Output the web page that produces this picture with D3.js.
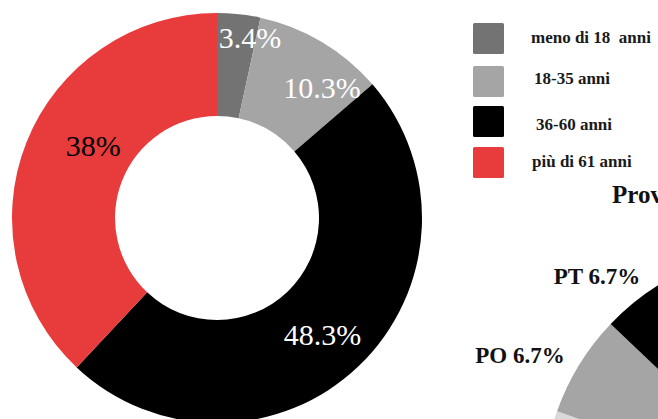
<!DOCTYPE html>
<html>
<head>
<meta charset="utf-8">
<script src="https://cdn.jsdelivr.net/npm/d3@7"></script>
<style>
  body { margin: 0; background: #fff; }
  svg { display: block; }
  text { font-family: "Liberation Serif", "Times New Roman", "DejaVu Serif", serif; }
</style>
</head>
<body>
<svg id="chart"></svg>
<script>
// age groups (donut)
var ageLabels = ["meno di 18  anni", "18-35 anni", "36-60 anni", "più di 61 anni"];
var ageValues = [3.4, 10.3, 48.3, 38];
var ageText = ["3.4%", "10.3%", "48.3%", "38%"];
var ageColors = ["#737373", "#a5a5a5", "#000000", "#e83b3c"];

// province of origin (pie, mostly off screen)
var provLabels = ["FI", "AR", "LU", "SI", "PO", "PT", "PI"];
var provValues = [46.7, 13.3, 10, 10, 6.7, 6.7, 6.6];
var provColors = ["#e83b3c", "#737373", "#595959", "#d9d9d9", "#a5a5a5", "#000000", "#7f7f7f"];
var provTitle = "Provenienza";

(function() {
    const width = 658, height = 419

    var svg = d3.select("#chart")
        .attr("width", width)
        .attr("height", height)

    // ---- donut ----
    var cx = 217, cy = 218
    var outerR = 205, innerR = 102

    var pie = d3.pie().sort(null).value((d) => d)
    var arcs = pie(ageValues)

    var arc = d3.arc().innerRadius(innerR).outerRadius(outerR)
    var labelArc = d3.arc().innerRadius(160).outerRadius(160)

    var g = svg.append("g").attr("transform", "translate(" + cx + "," + cy + ")")

    g.selectAll("path")
        .data(arcs)
        .enter()
        .append("path")
        .attr("d", arc)
        .style("fill", (d, i) => ageColors[i])

    // small nudges so labels sit like the original
    var nudge = [[16, -21], [23, 7], [-5, 1], [25, -14]]
    var textColor = ["#fff", "#fff", "#fff", "#000"]

    g.selectAll("text.lab")
        .data(arcs)
        .enter()
        .append("text")
        .attr("class", "lab")
        .attr("x", (d, i) => labelArc.centroid(d)[0] + nudge[i][0])
        .attr("y", (d, i) => labelArc.centroid(d)[1] + nudge[i][1])
        .attr("text-anchor", "middle")
        .attr("dominant-baseline", "central")
        .style("font-size", "30px")
        .style("fill", (d, i) => textColor[i])
        .text((d, i) => ageText[i])

    // legend
    var legendY = [23, 66, 106, 147]
    var textY = [43, 84, 130, 167]
    var textX = [531, 534, 536, 532]
    var legend = svg.append("g")
    legend.selectAll("rect")
        .data(ageLabels)
        .enter()
        .append("rect")
        .attr("x", 473)
        .attr("y", (d, i) => legendY[i])
        .attr("width", 31)
        .attr("height", 31)
        .attr("rx", 1.5)
        .style("fill", (d, i) => ageColors[i])
    legend.selectAll("text")
        .data(ageLabels)
        .enter()
        .append("text")
        .attr("x", (d, i) => textX[i])
        .attr("y", (d, i) => textY[i])
        .style("font-size", "17px")
        .style("font-weight", "bold")
        .style("fill", "#1a1a1a")
        .style("white-space", "pre")
        .text((d) => d)

    // ---- province pie (cut by the page edge) ----
    var pcx = 788, pcy = 493, pR = 245
    var rot = 1.5 * Math.PI / 180
    var parcs = d3.pie().sort(null).value((d) => d)
        .startAngle(rot).endAngle(2 * Math.PI + rot)(provValues)
    var parc = d3.arc().innerRadius(0).outerRadius(pR)
    var plabArc = d3.arc().innerRadius(262).outerRadius(262)

    var pg = svg.append("g").attr("transform", "translate(" + pcx + "," + pcy + ")")
    pg.selectAll("path")
        .data(parcs)
        .enter()
        .append("path")
        .attr("d", parc)
        .style("fill", (d, i) => provColors[i])

    // anchor depends on which side of the pie the label sits
    var anchorOf = function(d) {
        var s = Math.sin((d.startAngle + d.endAngle) / 2)
        if (s < -0.5) return "end"
        if (s > 0.5) return "start"
        return "middle"
    }

    pg.selectAll("text")
        .data(parcs)
        .enter()
        .append("text")
        .attr("x", (d) => plabArc.centroid(d)[0])
        .attr("y", (d) => plabArc.centroid(d)[1])
        .attr("text-anchor", anchorOf)
        .attr("dominant-baseline", "central")
        .style("font-size", "23px")
        .style("font-weight", "bold")
        .style("fill", "#111")
        .text((d, i) => provLabels[i] + " " + d3.format(".1f")(provValues[i]) + "%")

    svg.append("text")
        .attr("x", 612)
        .attr("y", 203)
        .style("font-size", "25px")
        .style("font-weight", "bold")
        .style("fill", "#111")
        .text(provTitle)
})();
</script>
</body>
</html>
